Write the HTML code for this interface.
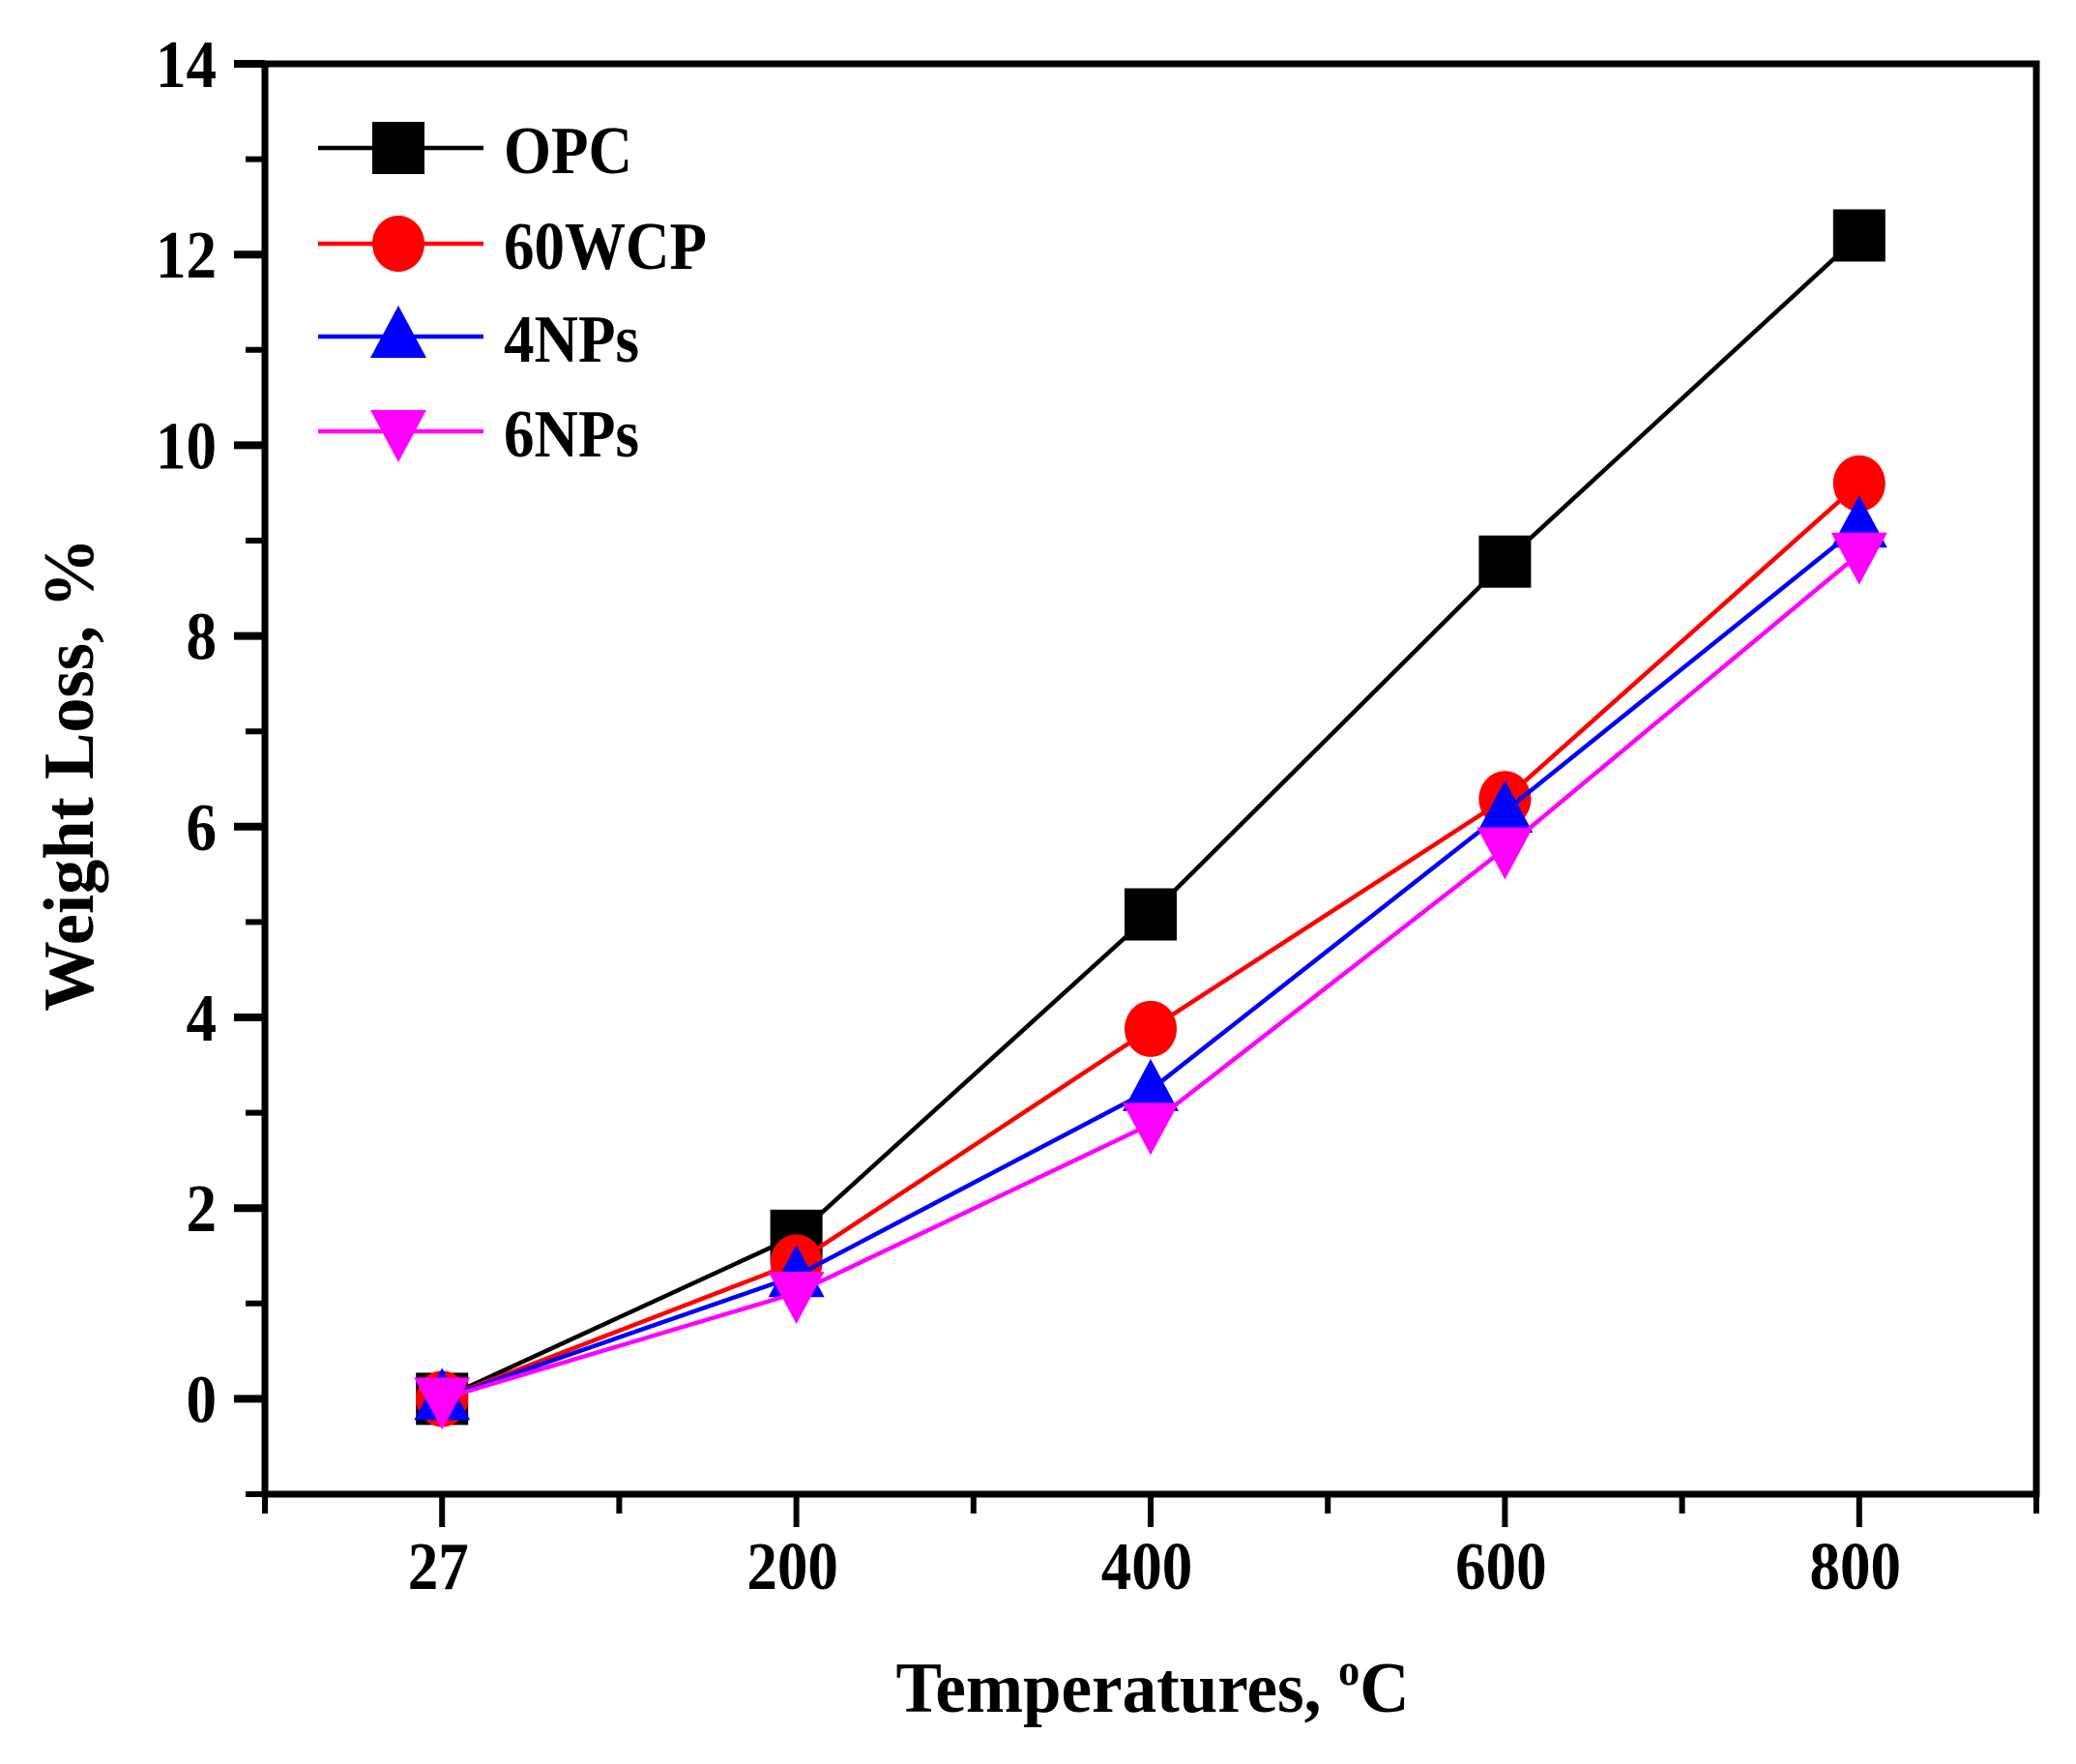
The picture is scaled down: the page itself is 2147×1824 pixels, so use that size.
<!DOCTYPE html>
<html><head><meta charset="utf-8"><style>
html,body{margin:0;padding:0;background:#fff;}
svg{display:block;font-family:"Liberation Serif",serif;font-weight:bold;}
</style></head><body>
<svg id="chart" width="2147" height="1824" viewBox="0 0 2147 1824"></svg>
<script>
const categories = ["27","200","400","600","800"];
const seriesNames = ["OPC","60WCP","4NPs","6NPs"];
const opc = [0, 1.71, 5.08, 8.78, 12.2];
const wcp60 = [0, 1.43, 3.88, 6.29, 9.6];
const np4 = [0, 1.29, 3.24, 6.16, 9.15];
const np6 = [0, 1.11, 2.88, 5.77, 8.86];
const yTicks = [0,2,4,6,8,10,12,14];

const NS="http://www.w3.org/2000/svg";
const svg=document.getElementById('chart');
const L=274,R=2106,T=66,B=1545;
const yMin=-1,yMax=14;
function xs(i){return L+(i+0.5)*(R-L)/categories.length;}
function ys(v){return B-(v-yMin)*(B-T)/(yMax-yMin);}
function el(tag,attrs,parent){const e=document.createElementNS(NS,tag);for(const k in attrs)e.setAttribute(k,attrs[k]);(parent||svg).appendChild(e);return e;}

const frame=el('rect',{x:L,y:T,width:R-L,height:B-T,fill:'none',stroke:'#000','stroke-width':7});



for(let v=-1;v<=14;v++){
  const major=yTicks.includes(v);
  const t=el('line',{x1:L-(major?32:20),x2:L,y1:ys(v),y2:ys(v),stroke:'#000','stroke-width':major?8:6});
  
  
}
yTicks.forEach(v=>{
  const t=el('text',{x:0,y:0,'text-anchor':'end','font-size':70,transform:`translate(224,${ys(v)+24}) scale(0.9,1)`});
  t.textContent=v;
  
  
});
for(let k=0;k<=categories.length*2;k++){
  const x=L+k*(R-L)/(categories.length*2);
  const major=k%2===1;
  const t=el('line',{x1:x,x2:x,y1:B,y2:B+(major?34:20),stroke:'#000','stroke-width':6});
  
  
}
categories.forEach((c,i)=>{
  const t=el('text',{x:0,y:0,'text-anchor':'middle','font-size':70,transform:`translate(${xs(i)-4},1643) scale(0.9,1)`});
  t.textContent=c;
  
  
});
const xt=el('text',{x:0,y:0,'text-anchor':'middle','font-size':74,transform:'translate(1192,1770) scale(0.96,1)'});
xt.innerHTML='Temperatures, <tspan dy="-28" font-size="46">o</tspan><tspan dy="28">C</tspan>';


const yt=el('text',{x:0,y:0,'text-anchor':'middle','font-size':74,transform:'translate(96,801) rotate(-90) scale(0.98,1)'});
yt.textContent='Weight Loss, %';



const colors=['#000','#ff0000','#0000ff','#ff00ff'];
const shapes=['square','circle','up','down'];
function marker(shape,cx,cy,color,g){
  let m;
  if(shape==='square')m=el('rect',{x:cx-27,y:cy-27,width:54,height:54,fill:color},g);
  else if(shape==='circle')m=el('ellipse',{cx:cx,cy:cy,rx:27,ry:29,fill:color},g);
  else if(shape==='up')m=el('polygon',{points:`${cx},${cy-32} ${cx+29},${cy+22} ${cx-29},${cy+22}`,fill:color},g);
  else m=el('polygon',{points:`${cx},${cy+32} ${cx+29},${cy-22} ${cx-29},${cy-22}`,fill:color},g);
  return m;
}
const allSeries=[opc,wcp60,np4,np6];
allSeries.forEach((data,si)=>{
  const g=el('g',{});
  
  
  const pl=el('polyline',{points:data.map((v,i)=>xs(i)+','+ys(v)).join(' '),fill:'none',stroke:colors[si],'stroke-width':4.5},g);
  
  
  data.forEach((v,i)=>{
    const m=marker(shapes[si],xs(i),ys(v),colors[si],g);
    
    
  });
});
const legY=[153,252,348,446];
seriesNames.forEach((n,si)=>{
  const g=el('g',{});
  
  
  el('line',{x1:329,x2:500,y1:legY[si],y2:legY[si],stroke:colors[si],'stroke-width':4.5},g);
  marker(shapes[si],412,legY[si],colors[si],g);
  const t=el('text',{x:0,y:0,'font-size':70,transform:`translate(521,${legY[si]+26}) scale(0.9,1)`},g);
  t.textContent=n;
});
</script>
</body></html>
